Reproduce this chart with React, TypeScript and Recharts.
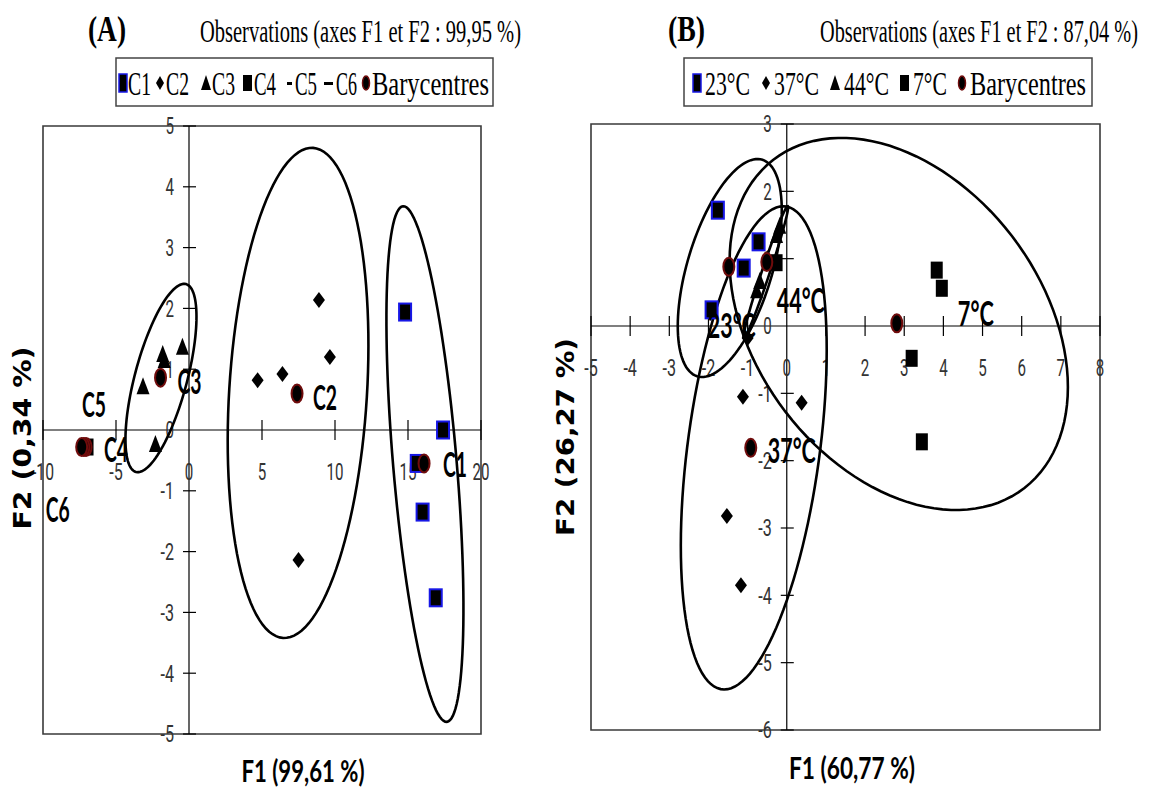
import React from 'react';
import {
  ScatterChart,
  Scatter,
  XAxis,
  YAxis,
  ReferenceLine,
  ReferenceDot,
  ReferenceArea,
} from 'recharts';

type Pt = { x: number; y: number };

// ---------- panel (A) : classes C1..C6 ----------
const c1Points: Pt[] = [
  { x: 14.8, y: 1.94 },
  { x: 17.4, y: 0.0 },
  { x: 15.6, y: -0.55 },
  { x: 16.0, y: -1.35 },
  { x: 16.9, y: -2.76 },
];
const c2Points: Pt[] = [
  { x: 8.9, y: 2.14 },
  { x: 9.65, y: 1.2 },
  { x: 6.4, y: 0.92 },
  { x: 4.7, y: 0.82 },
  { x: 7.5, y: -2.14 },
];
const c3Points: Pt[] = [
  { x: -0.45, y: 1.37 },
  { x: -1.8, y: 1.25 },
  { x: -1.7, y: 1.15 },
  { x: -3.15, y: 0.72 },
  { x: -2.3, y: -0.23 },
];
const c4Points: Pt[] = [{ x: -6.95, y: -0.28 }];
const c5Points: Pt[] = [{ x: -7.15, y: -0.28 }];
const c6Points: Pt[] = [{ x: -7.3, y: -0.28 }];
const baryA: Pt[] = [
  { x: 16.1, y: -0.55 },
  { x: 7.4, y: 0.6 },
  { x: -1.95, y: 0.86 },
  { x: -7.05, y: -0.28 },
  { x: -7.2, y: -0.28 },
  { x: -7.35, y: -0.28 },
];
const labelsA = ['C1', 'C2', 'C3', 'C4', 'C5', 'C6'];
// ellipses: centre, end of one semi-diameter, end of the conjugate one
const ellipseC3: Pt[] = [{ x: -1.92, y: 0.855 }, { x: -0.21, y: 2.4 }, { x: -0.19, y: 0.745 }];
const ellipseC2: Pt[] = [{ x: 7.47, y: 0.61 }, { x: 8.49, y: 4.64 }, { x: 12.18, y: 0.54 }];
const ellipseC1: Pt[] = [{ x: 16.16, y: -0.56 }, { x: 14.66, y: 3.68 }, { x: 18.33, y: -0.515 }];
const xTicksA = [-10, -5, 0, 5, 10, 15, 20];
const yTicksA = [-5, -4, -3, -2, -1, 0, 1, 2, 3, 4, 5];

// ---------- panel (B) : temperatures ----------
const t23Points: Pt[] = [
  { x: -1.76, y: 1.72 },
  { x: -0.72, y: 1.25 },
  { x: -1.1, y: 0.86 },
  { x: -1.92, y: 0.24 },
];
const t37Points: Pt[] = [
  { x: -1.12, y: -1.05 },
  { x: 0.38, y: -1.14 },
  { x: -1.53, y: -2.82 },
  { x: -1.17, y: -3.85 },
  { x: -1.0, y: -0.18 },
];
const t44Points: Pt[] = [
  { x: -0.77, y: 0.53 },
  { x: -0.69, y: 0.67 },
  { x: -0.26, y: 1.35 },
  { x: -0.18, y: 1.49 },
];
const t7Points: Pt[] = [
  { x: -0.26, y: 0.94 },
  { x: 3.83, y: 0.83 },
  { x: 3.96, y: 0.56 },
  { x: 3.19, y: -0.48 },
  { x: 3.45, y: -1.72 },
];
const baryB: Pt[] = [
  { x: -1.48, y: 0.88 },
  { x: -0.92, y: -1.81 },
  { x: -0.51, y: 0.95 },
  { x: 2.81, y: 0.04 },
];
const labelsB = ['23°C', '37°C', '44°C', '7°C'];
const ellipse23: Pt[] = [{ x: -1.456, y: 0.861 }, { x: -0.128, y: 1.723 }, { x: -1.456, y: -0.509 }];
const ellipse44: Pt[] = [{ x: -0.536, y: 0.8 }, { x: 0.026, y: 1.78 }, { x: -0.44, y: 0.78 }];
const ellipse37: Pt[] = [{ x: -0.843, y: -1.81 }, { x: 1.02, y: -0.356 }, { x: -0.843, y: -5.09 }];
const ellipse7: Pt[] = [{ x: 2.86, y: 0.03 }, { x: 7.18, y: -0.906 }, { x: 2.86, y: -2.57 }];
const xTicksB = [-5, -4, -3, -2, -1, 0, 1, 2, 3, 4, 5, 6, 7, 8];
const yTicksB = [-6, -5, -4, -3, -2, -1, 0, 1, 2, 3];

// label offsets in px from the barycentre (layout only)
const offsetsA = [[19, 0], [16, 3], [17, 3], [18, 2], [-2, -43], [-36, 62]];
const offsetsB = [[-21, 58], [17, 2], [10, 38], [61, -10]];

const W = 1149;
const H = 792;
const serif = '"Liberation Serif", "Times New Roman", serif';
const sans = 'Lato, "Open Sans", sans-serif';
const tickFont = 'Roboto, "DejaVu Sans", sans-serif';

// text stretched vertically (the original figure is a tall-scaled image)
const Txt = ({ x, y, w, size, sy = 1, family, weight = 400, anchor = 'start', rotate = false, fill = '#000', children }: any) => (
  <g transform={`translate(${x},${y})${rotate ? ' rotate(-90)' : ''} scale(1,${sy})`}>
    <text
      x={0}
      y={0}
      textAnchor={anchor}
      dominantBaseline="central"
      fontFamily={family}
      fontWeight={weight}
      fontSize={size}
      fill={fill}
      textLength={w}
      lengthAdjust="spacingAndGlyphs"
    >
      {children}
    </text>
  </g>
);

// ---------- marker shapes ----------
const blueSquare = (p: any) => (
  <rect x={p.cx - 6} y={p.cy - 8.5} width={12} height={17} fill="#000" stroke="#1717e6" strokeWidth={2} />
);
const blackSquare = (p: any) => <rect x={p.cx - 6} y={p.cy - 8.5} width={12} height={17} fill="#000" />;
const diamond = (p: any) => (
  <path d={`M${p.cx},${p.cy - 8} L${p.cx + 6},${p.cy} L${p.cx},${p.cy + 8} L${p.cx - 6},${p.cy} Z`} fill="#000" />
);
const triangle = (p: any) => (
  <path d={`M${p.cx},${p.cy - 9} L${p.cx + 6.5},${p.cy + 8} L${p.cx - 6.5},${p.cy + 8} Z`} fill="#000" />
);
const dash = (p: any) => <rect x={p.cx - 4} y={p.cy - 1.5} width={8} height={3} fill="#000" />;
const baryDot = (p: any) => (
  <ellipse cx={p.cx} cy={p.cy} rx={5.5} ry={9} fill="#000" stroke="#700c0c" strokeWidth={2} />
);
const noDot = () => <g />;

// draws the ellipse from its three control points (centre + conjugate semi-diameters)
const ellipseLine = (props: any) => {
  const pts = props.points;
  if (!pts || pts.length < 3) return <g />;
  const [c, a, b] = pts;
  const ax = a.x - c.x;
  const ay = a.y - c.y;
  const bx = b.x - c.x;
  const by = b.y - c.y;
  let d = '';
  for (let i = 0; i <= 120; i++) {
    const t = (i / 120) * Math.PI * 2;
    const x = c.x + Math.cos(t) * ax + Math.sin(t) * bx;
    const y = c.y + Math.cos(t) * ay + Math.sin(t) * by;
    d += (i === 0 ? 'M' : 'L') + x.toFixed(2) + ',' + y.toFixed(2);
  }
  return <path d={d + 'Z'} fill="none" stroke="#000" strokeWidth={2.6} />;
};

const numLen = (s: string) => s.replace('-', '').length * 8.5 + (s.startsWith('-') ? 5 : 0);

const xTick = (v: number) => (p: any) => (
  <g>
    {v !== 0 && <line x1={p.cx} x2={p.cx} y1={p.cy - 10} y2={p.cy + 10} stroke="#000" strokeWidth={1.2} />}
    <Txt x={p.cx} y={p.cy + 42} w={numLen(String(v))} size={16} sy={1.55} family={tickFont} anchor="middle" fill="#333">
      {v}
    </Txt>
  </g>
);

const yTick = (v: number) => (p: any) => (
  <g>
    {v !== 0 && <line x1={p.cx - 6} x2={p.cx + 7} y1={p.cy} y2={p.cy} stroke="#000" strokeWidth={1.2} />}
    <Txt x={p.cx - 15} y={p.cy} w={numLen(String(v))} size={16} sy={1.55} family={tickFont} anchor="end" fill="#333">
      {v}
    </Txt>
  </g>
);

const dataLabel = (label: string, off: number[]) => (p: any) => (
  <Txt x={p.cx + off[0]} y={p.cy + off[1]} w={label.length * 12} size={21} sy={1.6} family={sans} weight={700}>
    {label}
  </Txt>
);

type Group = { data: Pt[]; shape: (p: any) => React.ReactElement };

type PanelProps = {
  width: number;
  margin: { top: number; right: number; bottom: number; left: number };
  xDomain: [number, number];
  yDomain: [number, number];
  xTicks: number[];
  yTicks: number[];
  groups: Group[];
  ellipses: Pt[][];
  bary: Pt[];
  labels: string[];
  offsets: number[][];
};

const Panel = ({ width, margin, xDomain, yDomain, xTicks, yTicks, groups, ellipses, bary, labels, offsets }: PanelProps) => (
  <ScatterChart width={width} height={H} margin={margin}>
    <XAxis type="number" dataKey="x" domain={xDomain} allowDataOverflow hide />
    <YAxis type="number" dataKey="y" domain={yDomain} allowDataOverflow hide />
    <ReferenceArea
      x1={xDomain[0]}
      x2={xDomain[1]}
      y1={yDomain[0]}
      y2={yDomain[1]}
      fill="none"
      stroke="#3a3a3a"
      strokeWidth={1.6}
      ifOverflow="visible"
    />
    <ReferenceLine x={0} stroke="#000" strokeWidth={1.2} />
    <ReferenceLine y={0} stroke="#000" strokeWidth={1.2} />
    {xTicks.map((v) => (
      <ReferenceDot key={'xt' + v} x={v} y={0} r={0} ifOverflow="visible" shape={xTick(v)} />
    ))}
    {yTicks.map((v) => (
      <ReferenceDot key={'yt' + v} x={0} y={v} r={0} ifOverflow="visible" shape={yTick(v)} />
    ))}
    {ellipses.map((e, i) => (
      <Scatter key={'el' + i} data={e} shape={noDot} line={ellipseLine} isAnimationActive={false} />
    ))}
    {groups.map((g, i) => (
      <Scatter key={'g' + i} data={g.data} shape={g.shape} isAnimationActive={false} />
    ))}
    <Scatter data={bary} shape={baryDot} isAnimationActive={false} />
    {bary.map((b, i) => (
      <ReferenceDot
        key={'lb' + i}
        x={b.x}
        y={b.y}
        r={0}
        ifOverflow="visible"
        shape={dataLabel(labels[i], offsets[i])}
      />
    ))}
  </ScatterChart>
);

const App = () => {
  const lgY = 83;
  const lg = { size: 24, sy: 1.4, family: serif };
  return (
    <div style={{ position: 'fixed', left: 0, top: 0, width: W, height: H, background: '#fff' }}>
      <div style={{ position: 'absolute', left: 0, top: 0 }}>
        <Panel
          width={545}
          margin={{ top: 126, right: 64, bottom: 58, left: 43 }}
          xDomain={[-10, 20]}
          yDomain={[-5, 5]}
          xTicks={xTicksA}
          yTicks={yTicksA}
          ellipses={[ellipseC3, ellipseC2, ellipseC1]}
          groups={[
            { data: c1Points, shape: blueSquare },
            { data: c2Points, shape: diamond },
            { data: c3Points, shape: triangle },
            { data: c4Points, shape: blackSquare },
            { data: c5Points, shape: dash },
            { data: c6Points, shape: dash },
          ]}
          bary={baryA}
          labels={labelsA}
          offsets={offsetsA}
        />
      </div>
      <div style={{ position: 'absolute', left: 545, top: 0 }}>
        <Panel
          width={604}
          margin={{ top: 124, right: 49, bottom: 62, left: 46 }}
          xDomain={[-5, 8]}
          yDomain={[-6, 3]}
          xTicks={xTicksB}
          yTicks={yTicksB}
          ellipses={[ellipse23, ellipse44, ellipse37, ellipse7]}
          groups={[
            { data: t23Points, shape: blueSquare },
            { data: t37Points, shape: diamond },
            { data: t44Points, shape: triangle },
            { data: t7Points, shape: blackSquare },
          ]}
          bary={baryB}
          labels={labelsB}
          offsets={offsetsB}
        />
      </div>

      <svg width={W} height={H} style={{ position: 'absolute', left: 0, top: 0, pointerEvents: 'none' }}>
        {/* titles */}
        <Txt x={88} y={29} w={38} size={27} sy={1.3} family={serif} weight={700}>(A)</Txt>
        <Txt x={200} y={31} w={321} size={20} sy={1.6} family={serif}>Observations  (axes F1 et F2 : 99,95 %)</Txt>
        <Txt x={668} y={29} w={37} size={27} sy={1.3} family={serif} weight={700}>(B)</Txt>
        <Txt x={820} y={31} w={318} size={20} sy={1.6} family={serif}>Observations  (axes F1 et F2 : 87,04 %)</Txt>

        {/* legend A */}
        <rect x={116} y={58} width={377} height={48} fill="#fff" stroke="#444" strokeWidth={1.5} />
        <rect x={119} y={lgY - 9} width={8} height={18} fill="#000" stroke="#1717e6" strokeWidth={1.5} />
        <Txt x={128} y={lgY} w={23} {...lg}>C1</Txt>
        <path d={`M160,${lgY - 7} L164,${lgY} L160,${lgY + 7} L156,${lgY} Z`} fill="#000" />
        <Txt x={166} y={lgY} w={23} {...lg}>C2</Txt>
        <path d={`M206,${lgY - 8} L211,${lgY + 7} L201,${lgY + 7} Z`} fill="#000" />
        <Txt x={212} y={lgY} w={23} {...lg}>C3</Txt>
        <rect x={243} y={lgY - 8} width={9} height={16} fill="#000" />
        <Txt x={254} y={lgY} w={22} {...lg}>C4</Txt>
        <rect x={287} y={lgY - 1} width={5} height={3} fill="#000" />
        <Txt x={295} y={lgY} w={22} {...lg}>C5</Txt>
        <rect x={324} y={lgY - 1} width={9} height={3} fill="#000" />
        <Txt x={336} y={lgY} w={21} {...lg}>C6</Txt>
        <ellipse cx={366} cy={lgY} rx={3.5} ry={7} fill="#000" stroke="#700c0c" strokeWidth={1.5} />
        <Txt x={372} y={lgY} w={117} {...lg}>Barycentres</Txt>

        {/* legend B */}
        <rect x={684} y={58} width={408} height={48} fill="#fff" stroke="#444" strokeWidth={1.5} />
        <rect x={693} y={lgY - 9} width={8} height={18} fill="#000" stroke="#1717e6" strokeWidth={1.5} />
        <Txt x={705} y={lgY} w={45} {...lg}>23°C</Txt>
        <path d={`M766,${lgY - 7} L770,${lgY} L766,${lgY + 7} L762,${lgY} Z`} fill="#000" />
        <Txt x={774} y={lgY} w={45} {...lg}>37°C</Txt>
        <path d={`M835,${lgY - 8} L840,${lgY + 7} L830,${lgY + 7} Z`} fill="#000" />
        <Txt x={844} y={lgY} w={45} {...lg}>44°C</Txt>
        <rect x={900} y={lgY - 8} width={9} height={16} fill="#000" />
        <Txt x={913} y={lgY} w={34} {...lg}>7°C</Txt>
        <ellipse cx={962} cy={lgY} rx={3.5} ry={7} fill="#000" stroke="#700c0c" strokeWidth={1.5} />
        <Txt x={970} y={lgY} w={116} {...lg}>Barycentres</Txt>

        {/* axis titles */}
        <Txt x={303} y={770} w={123} size={21.5} sy={1.4} family={sans} weight={700} anchor="middle">F1 (99,61 %)</Txt>
        <Txt x={852} y={767} w={126} size={21.5} sy={1.4} family={sans} weight={700} anchor="middle">F1 (60,77 %)</Txt>
        <Txt x={22} y={438} w={183} size={25} family='"DejaVu Sans", sans-serif' weight={700} anchor="middle" rotate>
          F2 (0,34 %)
        </Txt>
        <Txt x={565} y={437} w={198} size={25} family='"DejaVu Sans", sans-serif' weight={700} anchor="middle" rotate>
          F2 (26,27 %)
        </Txt>
      </svg>
    </div>
  );
};

export default App;
